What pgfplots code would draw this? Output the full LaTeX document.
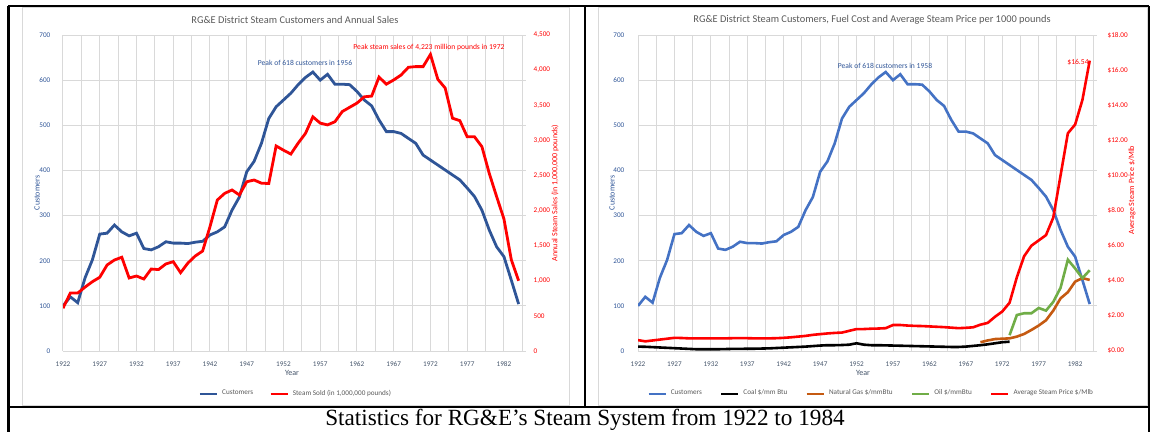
\documentclass[border=0pt]{standalone}
\usepackage{pgfplots}
\usepackage{pgfplotstable}
\pgfplotsset{compat=1.18}
\usepackage{fontspec}
\setmainfont{Liberation Serif}
\newfontfamily\carl{Carlito}
\definecolor{navyL}{RGB}{47,85,151}
\definecolor{blueR}{RGB}{68,114,196}
\definecolor{orangeR}{RGB}{197,90,17}
\definecolor{greenR}{RGB}{112,173,71}
\definecolor{redL}{RGB}{255,0,0}
\definecolor{gridgray}{RGB}{217,217,217}
\definecolor{titlegray}{RGB}{89,89,89}
\definecolor{xlab}{RGB}{68,84,106}
\newcommand{\tk}{\carl\fontsize{3.6}{4.3}\selectfont}
\newcommand{\an}{\carl\fontsize{3.8}{4.5}\selectfont}
\newcommand{\ttl}{\carl\fontsize{5.2}{6.2}\selectfont}
\newcommand{\axt}{\carl\fontsize{4}{4.8}\selectfont}

\pgfplotstableread{
year cust sales
1922 100 610
1923 120 825
1924 107 825
1925 162 910
1926 202 987
1927 259 1050
1928 261 1225
1929 279 1296
1930 264 1335
1931 255 1040
1932 261 1068
1933 227 1025
1934 224 1167
1935 231 1160
1936 242 1240
1937 239 1272
1938 239 1115
1939 238 1253
1940 241 1353
1941 243 1424
1942 257 1770
1943 264 2150
1944 275 2245
1945 312 2293
1946 341 2222
1947 397 2410
1948 420 2435
1949 460 2390
1950 515 2385
1951 541 2920
1952 556 2860
1953 571 2805
1954 590 2960
1955 606 3100
1956 618 3335
1957 600 3245
1958 613 3220
1959 591 3265
1960 591 3410
1961 590 3470
1962 575 3530
1963 556 3620
1964 543 3630
1965 512 3900
1966 486 3800
1967 486 3860
1968 482 3930
1969 471 4040
1970 460 4050
1971 434 4050
1972 423 4223
1973 412 3870
1974 401 3745
1975 390 3315
1976 379 3280
1977 361 3050
1978 342 3050
1979 312 2910
1980 268 2530
1981 231 2200
1982 209 1880
1983 157 1300
1984 104 1000
}\leftdata

\pgfplotstableread{
year price coal gas oil
1922 0.62 0.25 nan nan
1923 0.55 0.24 nan nan
1924 0.60 0.22 nan nan
1925 0.65 0.20 nan nan
1926 0.70 0.18 nan nan
1927 0.75 0.16 nan nan
1928 0.74 0.14 nan nan
1929 0.72 0.12 nan nan
1930 0.72 0.10 nan nan
1931 0.72 0.10 nan nan
1932 0.72 0.10 nan nan
1933 0.72 0.10 nan nan
1934 0.72 0.11 nan nan
1935 0.73 0.12 nan nan
1936 0.73 0.12 nan nan
1937 0.73 0.13 nan nan
1938 0.72 0.13 nan nan
1939 0.72 0.14 nan nan
1940 0.72 0.15 nan nan
1941 0.73 0.17 nan nan
1942 0.75 0.19 nan nan
1943 0.78 0.21 nan nan
1944 0.82 0.23 nan nan
1945 0.86 0.25 nan nan
1946 0.92 0.28 nan nan
1947 0.96 0.31 nan nan
1948 1.00 0.33 nan nan
1949 1.03 0.33 nan nan
1950 1.05 0.34 nan nan
1951 1.15 0.36 nan nan
1952 1.25 0.44 nan nan
1953 1.25 0.36 nan nan
1954 1.27 0.33 nan nan
1955 1.28 0.33 nan nan
1956 1.30 0.32 nan nan
1957 1.48 0.31 nan nan
1958 1.48 0.30 nan nan
1959 1.45 0.29 nan nan
1960 1.43 0.28 nan nan
1961 1.42 0.27 nan nan
1962 1.40 0.26 nan nan
1963 1.38 0.25 nan nan
1964 1.36 0.24 nan nan
1965 1.33 0.23 nan nan
1966 1.30 0.23 nan nan
1967 1.32 0.25 nan nan
1968 1.35 0.29 nan nan
1969 1.50 0.33 0.50 nan
1970 1.60 0.38 0.60 nan
1971 1.95 0.44 0.68 nan
1972 2.25 0.50 0.70 nan
1973 2.75 0.53 0.72 0.90
1974 4.20 nan 0.82 2.05
1975 5.40 nan 0.97 2.15
1976 6.00 nan 1.20 2.15
1977 6.30 nan 1.45 2.45
1978 6.60 nan 1.75 2.30
1979 7.60 nan 2.30 2.80
1980 10.00 nan 3.00 3.60
1981 12.40 nan 3.35 5.20
1982 12.90 nan 3.95 4.70
1983 14.30 nan 4.15 4.15
1984 16.54 nan 4.05 4.60
}\rightdata

\pgfplotsset{
  basegrid/.style={
    anchor=south west, scale only axis, height=158pt,
    xmin=1922, xmax=1985, ymin=0, ymax=700,
    xtick={1922,1927,...,1982}, minor xtick={1924.5,1929.5,...,1984.5},
    ytick={0,100,...,700},
    grid=both,
    major grid style={draw=gridgray, line width=0.5pt},
    minor grid style={draw=gridgray, line width=0.5pt},
    axis line style={draw=none},
    major tick length=0pt, minor tick length=0pt,
    /pgf/number format/assume math mode=true,
    /pgf/number format/1000 sep={},
    xticklabel style={font=\tk, text=xlab, yshift=-1.8pt},
    yticklabel style={font=\tk, text=navyL, xshift=-2.8pt},
  },
  baseright/.style={
    anchor=south west, scale only axis, height=158pt,
    xmin=1922, xmax=1985, ymin=0,
    axis y line*=right, axis x line=none,
    axis line style={draw=none},
    major tick length=0pt,
    /pgf/number format/assume math mode=true,
    yticklabel style={font=\tk, text=redL},
    legend style={anchor=center, legend columns=-1, draw=none, fill=none,
      font=\tk, text=titlegray,
      /tikz/every even column/.append style={column sep=6pt}},
    legend image code/.code={\draw[##1, line width=1.3pt] (0pt,0pt) -- (8.5pt,0pt);},
  },
}

\begin{document}
\begin{tikzpicture}
\useasboundingbox (0,0) rectangle (575pt,-216pt);
\begin{scope}[x=0.5pt,y=-0.5pt]
  \draw[gridgray, line width=0.5pt] (22,8) rectangle (569,405);
  \draw[gridgray, line width=0.5pt] (598,8) rectangle (1147,405);
\end{scope}

% ---------- left chart ----------
\begin{axis}[basegrid, at={(31.5pt,-175.5pt)}, width=231.5pt]
\addplot[navyL, line width=1.4pt] table[x=year, y=cust] {\leftdata};
\end{axis}
\begin{axis}[baseright, at={(31.5pt,-175.5pt)}, width=231.5pt,
  ymax=4500, ytick={0,500,...,4500},
  /pgf/number format/1000 sep={,},
  yticklabel style={xshift=0.3pt},
  legend style={at={(0.505,-0.136)}}]
\addlegendimage{navyL, line width=1.4pt}
\addlegendentry{Customers}
\addplot[redL, line width=1.4pt] table[x=year, y=sales] {\leftdata};
\addlegendentry{Steam Sold (in 1,000,000 pounds)}
\end{axis}

% ---------- right chart ----------
\begin{axis}[basegrid, at={(319pt,-175.5pt)}, width=229.5pt,
  yticklabel style={xshift=-0.5pt}]
\addplot[blueR, line width=1.3pt] table[x=year, y=cust] {\leftdata};
\end{axis}
\begin{axis}[baseright, at={(319pt,-175.5pt)}, width=229.5pt,
  ymax=18, ytick={0,2,...,18},
  yticklabel={\$\pgfmathprintnumber[fixed,fixed zerofill,precision=2]{\tick}},
  yticklabel style={xshift=1.8pt},
  legend style={at={(0.51,-0.136)}, /tikz/every even column/.append style={column sep=7pt}}]
\addlegendimage{blueR, line width=1.3pt}
\addlegendentry{Customers}
\addplot[black, line width=1.3pt] table[x=year, y=coal] {\rightdata};
\addlegendentry{Coal \$/mm Btu}
\addplot[orangeR, line width=1.3pt] table[x=year, y=gas] {\rightdata};
\addlegendentry{Natural Gas \$/mmBtu}
\addplot[greenR, line width=1.3pt] table[x=year, y=oil] {\rightdata};
\addlegendentry{Oil \$/mmBtu}
\addplot[redL, line width=1.3pt] table[x=year, y=price] {\rightdata};
\addlegendentry{Average Steam Price \$/Mlb}
\end{axis}

\begin{scope}[x=0.5pt,y=-0.5pt]
  % titles
  \node[font=\ttl, text=titlegray] at (295,20) {RG\&E District Steam Customers and Annual Sales};
  \node[font=\ttl, text=titlegray] at (872,20) {RG\&E District Steam Customers, Fuel Cost and Average Steam Price per 1000 pounds};
  % annotations
  \node[font=\an, text=navyL] at (305,63) {Peak of 618 customers in 1956};
  \node[font=\an, text=redL] at (429,47) {Peak steam sales of 4,223 million pounds in 1972};
  \node[font=\an, text=navyL] at (885,66) {Peak of 618 customers in 1958};
  \node[font=\an, text=redL] at (1078,62) {\$16.54};
  % axis titles
  \node[font=\axt, text=navyL, rotate=90] at (37,193) {Customers};
  \node[font=\axt, text=redL, rotate=90] at (555,193) {Annual Steam Sales (in 1,000,000 pounds)};
  \node[font=\axt, text=navyL, rotate=90] at (612,193) {Customers};
  \node[font=\axt, text=redL, rotate=90] at (1132,190) {Average Steam Price \$/Mlb};
  \node[font=\axt, text=xlab] at (292,373) {Year};
  \node[font=\axt, text=xlab] at (863,373) {Year};
  % table frame
  \draw[black, line width=1pt] (8,6) -- (1149,6);
  \draw[black, line width=1.5pt] (8,6) -- (8,433);
  \draw[black, line width=1pt] (585,6) -- (585,407);
  \draw[black, line width=1pt] (1149,6) -- (1149,433);
  \draw[black, line width=1pt] (8,407) -- (1149,407);
  % caption
  \node[anchor=base, font=\fontsize{11.6}{13}\selectfont, inner sep=0pt] at (585,425.5) {Statistics for RG\&E’s Steam System from 1922 to 1984};
\end{scope}
\end{tikzpicture}
\end{document}
